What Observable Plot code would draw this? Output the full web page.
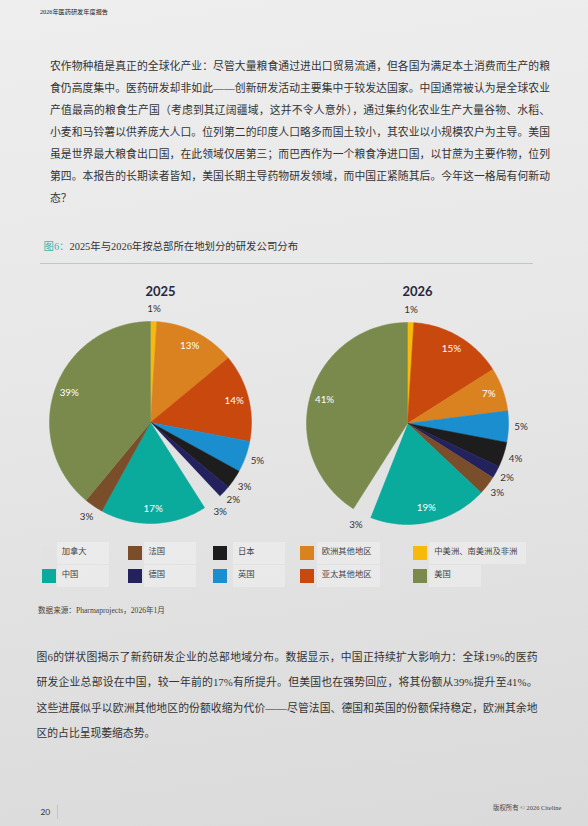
<!DOCTYPE html>
<html><head><meta charset="utf-8">
<script src="https://cdn.jsdelivr.net/npm/d3@7"></script>
<script src="https://cdn.jsdelivr.net/npm/@observablehq/plot@0.6"></script>
<style>
html,body{margin:0;padding:0;}
body{width:588px;height:826px;position:relative;overflow:hidden;background:linear-gradient(172deg,#eeeeee 0%,#e8e8e8 40%,#dadada 100%);font-family:"Liberation Serif","Noto Sans CJK SC",serif;color:#333;}
.abs{position:absolute;}
.para{position:absolute;font-size:10.8px;color:#333;}
.para div{text-align:justify;text-align-last:justify;}
.para div.last{text-align:left;text-align-last:left;}
.lgbox{position:absolute;height:22px;background:rgba(255,255,255,0.28);}
.lgsw{position:absolute;width:14px;height:14px;}
.lglab{position:absolute;font-size:8.3px;color:#444;line-height:10px;white-space:nowrap;}
</style></head><body>
<div id="root"></div>
<script>
// ---------- data ----------
const regions = ["加拿大","中国","法国","德国","日本","英国","欧洲其他地区","亚太其他地区","中美洲、南美洲及非洲","美国"];
const regionColors = ["#e2e2e2","#0aaa9c","#7a4e2a","#24215f","#1d1d1d","#1b8ed0","#d9821f","#c8480d","#f7b90a","#7a8a4d"];
const years = ["2025","2026"];
const order2025 = ["中美洲、南美洲及非洲","欧洲其他地区","亚太其他地区","英国","日本","德国","加拿大","中国","法国","美国"];
const values2025 = [1,13,14,5,3,2,3,17,3,39];
const order2026 = ["中美洲、南美洲及非洲","亚太其他地区","欧洲其他地区","英国","日本","德国","法国","中国","加拿大","美国"];
const values2026 = [1,15,7,5,4,2,3,19,3,41];
const legendRow1 = ["加拿大","法国","日本","欧洲其他地区","中美洲、南美洲及非洲"];
const legendRow2 = ["中国","德国","英国","亚太其他地区","美国"];

const headerText = "2026年医药研发年度报告";
const para1 = [
 "农作物种植是真正的全球化产业：尽管大量粮食通过进出口贸易流通，但各国为满足本土消费而生产的粮",
 "食仍高度集中。医药研发却非如此——创新研发活动主要集中于较发达国家。中国通常被认为是全球农业",
 "产值最高的粮食生产国（考虑到其辽阔疆域，这并不令人意外），通过集约化农业生产大量谷物、水稻、",
 "小麦和马铃薯以供养庞大人口。位列第二的印度人口略多而国土较小，其农业以小规模农户为主导。美国",
 "虽是世界最大粮食出口国，在此领域仅居第三；而巴西作为一个粮食净进口国，以甘蔗为主要作物，位列",
 "第四。本报告的长期读者皆知，美国长期主导药物研发领域，而中国正紧随其后。今年这一格局有何新动",
 "态？"
];
const para2 = [
 "图6的饼状图揭示了新药研发企业的总部地域分布。数据显示，中国正持续扩大影响力：全球19%的医药",
 "研发企业总部设在中国，较一年前的17%有所提升。但美国也在强势回应，将其份额从39%提升至41%。",
 "这些进展似乎以欧洲其他地区的份额收缩为代价——尽管法国、德国和英国的份额保持稳定，欧洲其余地",
 "区的占比呈现萎缩态势。"
];
const figLabel = "图6：";
const figTitle = "2025年与2026年按总部所在地划分的研发公司分布";
const sourceText = "数据来源：Pharmaprojects，2026年1月";
const pageNum = "20";
const copyright = "版权所有 © 2026 Citeline";

// ---------- layout ----------
const root = document.getElementById("root");
function el(tag, cls, style, text){const e=document.createElement(tag); if(cls)e.className=cls; if(style)e.setAttribute("style",style); if(text!=null)e.textContent=text; root.appendChild(e); return e;}

el("div","abs","left:40px;top:7px;font-size:6.2px;color:#222;white-space:nowrap;line-height:10px;",headerText);

function paragraph(lines,left,top,width,lh){
  const p=el("div","para",`left:${left}px;top:${top}px;width:${width}px;line-height:${lh}px;`);
  lines.forEach((t,i)=>{const d=document.createElement("div"); d.textContent=t; if(i===lines.length-1)d.className="last"; p.appendChild(d);});
}
paragraph(para1,50,55,500,22);
paragraph(para2,36.5,644.5,501,25.6);

const tt=el("div","abs","left:43.5px;top:239.5px;font-size:10.4px;line-height:13px;white-space:nowrap;color:#333;");
const s1=document.createElement("span"); s1.style.color="#3cb5ab"; s1.textContent=figLabel; tt.appendChild(s1);
tt.appendChild(document.createTextNode(figTitle));
el("div","abs","left:40px;top:262.5px;width:493px;height:1.2px;background:#9dd7d0;");

// ---------- pies ----------
const r = 101;
const pies = [
  {year: years[0], cx: 150, cy: 152, order: order2025, values: values2025},
  {year: years[1], cx: 407, cy: 153, order: order2026, values: values2026}
];
const pts = [], labels = [];
for (const p of pies) {
  const arcs = d3.pie().sort(null).startAngle(0).endAngle(2*Math.PI)(p.values);
  arcs.forEach((a,i) => {
    const key = p.year + "-" + i, region = p.order[i];
    pts.push({key, region, x: p.cx, y: p.cy});
    const n = Math.max(2, Math.ceil((a.endAngle - a.startAngle) / (Math.PI/180)));
    for (let k = 0; k <= n; k++) {
      const t = a.startAngle + (a.endAngle - a.startAngle) * k / n;
      pts.push({key, region, x: p.cx + r*Math.sin(t), y: p.cy - r*Math.cos(t)});
    }
    pts.push({key, region, x: p.cx, y: p.cy});
    const mid = (a.startAngle + a.endAngle)/2;
    const inside = a.data >= 7;
    const rr = inside ? 0.855*r : 1.125*r;
    labels.push({inside, text: a.data + "%", x: p.cx + rr*Math.sin(mid), y: p.cy - rr*Math.cos(mid)});
  });
}

const chart = Plot.plot({
  width: 588, height: 265,
  marginTop: 0, marginRight: 0, marginBottom: 0, marginLeft: 0,
  x: {domain: [0, 588], axis: null},
  y: {domain: [0, 265], axis: null, reverse: true},
  color: {domain: regions, range: regionColors},
  style: {background: "transparent", fontFamily: "Lato, 'Noto Sans', sans-serif", overflow: "visible"},
  marks: [
    Plot.line(pts, {x: "x", y: "y", z: "key", fill: "region", stroke: "region", strokeWidth: 0.5, curve: "linear"}),
    Plot.text(labels.filter(d => d.inside), {x: "x", y: "y", text: "text", fill: "white", fontSize: 9.8}),
    Plot.text(labels.filter(d => !d.inside), {x: "x", y: "y", text: "text", fill: "#333", fontSize: 9.8}),
    Plot.text(pies, {x: d => d.cx + 10, y: () => 21, text: "year", fill: "#272740", fontSize: 13, fontWeight: "bold"})
  ]
});
const holder = el("div","abs","left:0;top:270px;width:588px;height:265px;");
holder.appendChild(chart);

// ---------- legend ----------
const colX = [41.7,127.8,213.2,300,412.6];
const labX = [61.7,148.5,238,321.7,434.3];
const rowTop = [546.4,569.4];
[legendRow1, legendRow2].forEach((row, ri) => {
  row.forEach((name, ci) => {
    const c = regionColors[regions.indexOf(name)];
    const w = name.length * 8.3 + 14;
    el("div","lgbox",`left:${labX[ci]-5}px;top:${rowTop[ri]-4.5}px;width:${Math.max(52,w)}px;`);
    el("div","lgsw",`left:${colX[ci]}px;top:${rowTop[ri]}px;background:${c};`);
    el("div","lglab",`left:${labX[ci]}px;top:${rowTop[ri]+1}px;`,name);
  });
});
el("div","abs","left:38px;top:606px;font-size:7.6px;line-height:10px;color:#444;white-space:nowrap;",sourceText);

// ---------- footer ----------
el("div","abs","left:40.5px;top:807px;font-size:8.4px;line-height:10px;color:#333;font-family:Lato,'DejaVu Sans',sans-serif;",pageNum);
el("div","abs","left:57px;top:805px;width:1px;height:14px;background:#9fd6cf;");
el("div","abs","left:493px;top:802.5px;font-size:6.4px;line-height:9px;color:#444;white-space:nowrap;",copyright);
</script>
</body></html>
